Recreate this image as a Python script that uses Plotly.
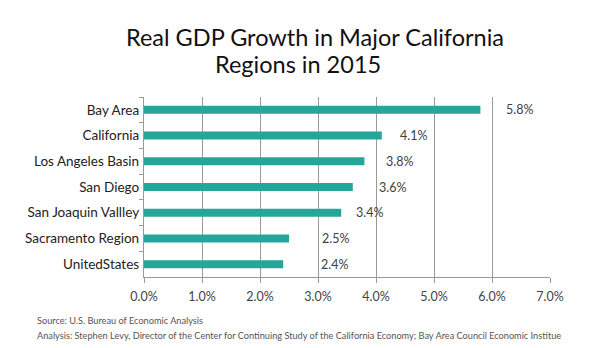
import plotly.graph_objects as go

# Real GDP growth by region, 2015 (percent)
regions = [
    "Bay Area",
    "California",
    "Los Angeles Basin",
    "San Diego",
    "San Joaquin Vallley",
    "Sacramento Region",
    "UnitedStates",
]
growth = [5.8, 4.1, 3.8, 3.6, 3.4, 2.5, 2.4]
x_ticks = [0, 1, 2, 3, 4, 5, 6, 7]
x_tick_labels = ["0.0%", "1.0%", "2.0%", "3.0%", "4.0%", "5.0%", "6.0%", "7.0%"]

title_lines = ["Real GDP Growth in Major California", "Regions in 2015"]
source_note = "Source: U.S. Bureau of Economic Analysis"
analysis_note = ("Analysis: Stephen Levy, Director of the Center for Continuing Study of the "
                 "California Economy; Bay Area Council Economic Institue")

# gap (px) between each bar end and its value label
label_gap_px = [24, 16, 20, 24, 13, 31, 36]

BAR = "#26A69A"
GRID = "#9a9a9a"
FONT = "Lato, 'Open Sans', sans-serif"

W, H = 604, 348
L, R, T, B = 144, 54, 97, 71
PW, PH = W - L - R, H - T - B


def px_to_paper(px, py):
    """Convert page pixel coordinates to paper coordinates."""
    return (px - L) / PW, (H - B - py) / PH


fig = go.Figure(
    go.Bar(
        x=growth,
        y=regions,
        orientation="h",
        marker=dict(color=BAR, line=dict(width=0)),
        hoverinfo="skip",
    )
)

# value labels beside each bar
for region, value, gap in zip(regions, growth, label_gap_px):
    fig.add_annotation(
        x=value, y=region, xref="x", yref="y",
        text=f"{value:.1f}%",
        showarrow=False, xanchor="left", xshift=gap,
        font=dict(family=FONT, size=12.5, color="#404040"),
    )

# two-line heading, each line placed on its own
for text, (cx, cy) in zip(title_lines, [(315, 37), (298, 64)]):
    ax, ay = px_to_paper(cx, cy)
    fig.add_annotation(
        x=ax, y=ay, xref="paper", yref="paper",
        text=text, showarrow=False,
        xanchor="center", yanchor="middle",
        font=dict(family=FONT, size=23.5, color="#111111"),
    )

# footnotes
for text, (lx, ly) in zip([source_note, analysis_note], [(35, 320), (35, 335)]):
    ax, ay = px_to_paper(lx, ly)
    fig.add_annotation(
        x=ax, y=ay, xref="paper", yref="paper",
        text=text, showarrow=False,
        xanchor="left", yanchor="middle",
        font=dict(family=FONT, size=9.2, color="#555555"),
    )

fig.update_layout(
    width=W,
    height=H,
    margin=dict(l=L, r=R, t=T, b=B),
    paper_bgcolor="white",
    plot_bgcolor="white",
    bargap=0.69,
    showlegend=False,
    xaxis=dict(
        range=[0, 7],
        tickvals=x_ticks,
        ticktext=x_tick_labels,
        showgrid=True,
        gridcolor=GRID,
        gridwidth=1.3,
        zeroline=False,
        showline=True,
        linecolor=GRID,
        linewidth=1.3,
        ticks="outside",
        ticklen=5,
        tickcolor=GRID,
        tickwidth=1.3,
        ticklabelstandoff=3,
        tickfont=dict(family=FONT, size=12.5, color="#444444"),
        fixedrange=True,
    ),
    yaxis=dict(
        autorange="reversed",
        type="category",
        showgrid=False,
        showline=True,
        linecolor=GRID,
        linewidth=1.3,
        ticks="outside",
        tickson="boundaries",
        ticklen=4,
        tickcolor=GRID,
        tickwidth=1.3,
        ticklabelstandoff=1,
        tickfont=dict(family=FONT, size=13.5, color="#222222"),
        fixedrange=True,
    ),
)

fig.write_html("out.html")
